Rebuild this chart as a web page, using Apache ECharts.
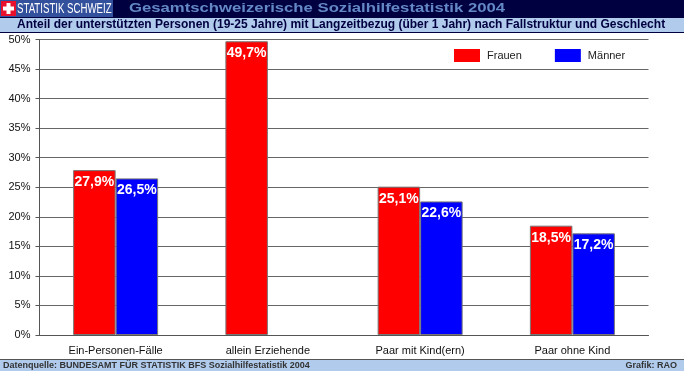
<!DOCTYPE html>
<html>
<head>
<meta charset="utf-8">
<title>Sozialhilfestatistik 2004</title>
<script src="https://cdn.jsdelivr.net/npm/echarts@6/dist/echarts.min.js"></script>
<style>
html, body { margin: 0; padding: 0; background: #fff; }
#chart { width: 684px; height: 371px; }
</style>
</head>
<body>
<div id="chart"></div>
<script>
const categories = ["Ein-Personen-Fälle", "allein Erziehende", "Paar mit Kind(ern)", "Paar ohne Kind"];
const frauen = [27.9, 49.7, 25.1, 18.5];
const maenner = [26.5, null, 22.6, 17.2];
const seriesNames = ["Frauen", "Männer"];
const headerTitle = "Gesamtschweizerische Sozialhilfestatistik 2004";
const subTitle = "Anteil der unterstützten Personen (19-25 Jahre) mit Langzeitbezug (über 1 Jahr) nach Fallstruktur und Geschlecht";
const sourceText = "Datenquelle: BUNDESAMT FÜR STATISTIK BFS Sozialhilfestatistik 2004";
const creditText = "Grafik: RAO";

const font = "Liberation Sans";
const chart = echarts.init(document.getElementById("chart"), null, {renderer: "canvas"});

// bar label, decimal comma like the original
const barLabel = {
	show: true,
	position: "insideTop",
	distance: 5,
	color: "#fff",
	fontFamily: font,
	fontWeight: "bold",
	fontSize: 14,
	formatter: (p) => p.value.toFixed(1).replace(".", ",") + "%",
};

const barStyle = (color) => ({color: color, borderColor: "#777", borderWidth: 1});

chart.setOption({
	animation: false,
	backgroundColor: "#fff",
	grid: {left: 39.5, right: 35.5, top: 39.5, bottom: 36},
	legend: {
		left: 454,
		top: 49,
		padding: 0,
		itemWidth: 26,
		itemHeight: 13,
		itemGap: 33,
		icon: "rect",
		data: seriesNames,
		itemStyle: {borderWidth: 0},
		textStyle: {fontFamily: font, fontSize: 11, color: "#222", padding: [0, 0, 0, 2]},
	},
	xAxis: {
		type: "category",
		data: categories,
		axisTick: {show: false},
		axisLine: {lineStyle: {color: "#555", width: 1}},
		axisLabel: {fontFamily: font, fontSize: 11, color: "#111", margin: 10},
	},
	yAxis: {
		type: "value",
		min: 0,
		max: 50,
		interval: 5,
		axisLine: {show: true, lineStyle: {color: "#555", width: 1}},
		axisTick: {show: true, length: 4, lineStyle: {color: "#555"}},
		axisLabel: {fontFamily: font, fontSize: 11, color: "#111", margin: 9, formatter: "{value}%"},
		splitLine: {lineStyle: {color: "#666", width: 1}},
	},
	series: [
		{name: seriesNames[0], type: "bar", data: frauen, barWidth: 42.5, barGap: 0, itemStyle: barStyle("#ff0000"), label: barLabel},
		{name: seriesNames[1], type: "bar", data: maenner, barWidth: 42.5, itemStyle: barStyle("#0000ff"), label: barLabel},
	],
	graphic: [
		// header and footer bands
		{type: "rect", z: 1, shape: {x: 0, y: 0, width: 684, height: 18}, style: {fill: "#000040"}},
		{type: "rect", z: 2, shape: {x: 0, y: 0, width: 113, height: 17}, style: {fill: "#33509c"}},
		{type: "rect", z: 3, shape: {x: 1, y: 1, width: 15, height: 15}, style: {fill: "#e8112d"}},
		{type: "rect", z: 4, shape: {x: 6.5, y: 3, width: 4, height: 11}, style: {fill: "#fff"}},
		{type: "rect", z: 4, shape: {x: 3, y: 6.5, width: 11, height: 4}, style: {fill: "#fff"}},
		{type: "text", z: 4, x: 17, y: 2, scaleX: 0.69, style: {text: "STATISTIK SCHWEIZ", fill: "#fff", font: "14px 'Liberation Sans'"}},
		{type: "text", z: 4, x: 129, y: 2, scaleX: 1.285, style: {text: headerTitle, fill: "#6488c6", font: "bold 13px 'Liberation Sans'"}},
		{type: "rect", z: 1, shape: {x: 0, y: 18, width: 684, height: 14}, style: {fill: "#b0cbec"}},
		{type: "rect", z: 1, shape: {x: 0, y: 32, width: 684, height: 1}, style: {fill: "#000040"}},
		{type: "text", z: 4, left: 17, top: 19, style: {text: subTitle, fill: "#000040", font: "bold 12px 'Liberation Sans'"}},
		{type: "rect", z: 1, shape: {x: 0, y: 359, width: 684, height: 12}, style: {fill: "#b0cbec"}},
		{type: "rect", z: 1, shape: {x: 0, y: 359, width: 684, height: 1}, style: {fill: "#555"}},
		{type: "text", z: 4, left: 3, top: 361, style: {text: sourceText, fill: "#333", font: "bold 9px 'Liberation Sans'"}},
		{type: "text", z: 4, right: 7, top: 361, style: {text: creditText, fill: "#333", font: "bold 9px 'Liberation Sans'"}},
	],
});
</script>
</body>
</html>
